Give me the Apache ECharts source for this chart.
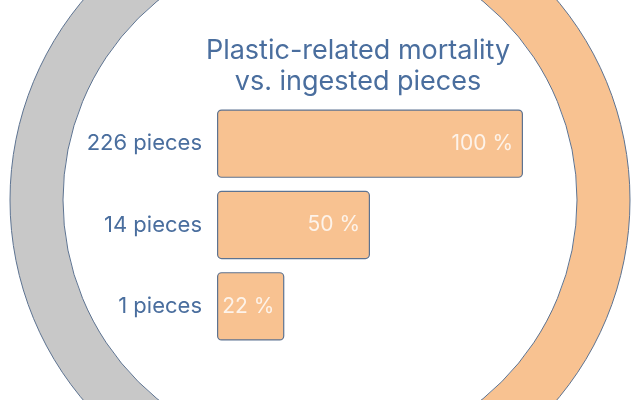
<!DOCTYPE html>
<html>
<head>
<meta charset="utf-8">
<script src="https://cdn.jsdelivr.net/npm/echarts@6/dist/echarts.min.js"></script>
<style>
  html, body { margin: 0; padding: 0; background: #fff; }
  #chart { width: 640px; height: 400px; }
</style>
</head>
<body>
<div id="chart"></div>
<script>
  // data
  const categories = ['226 pieces', '14 pieces', '1 pieces']
  const mortality = [100, 50, 22]
  const ringNames = ['orange', 'gray']
  const ringValues = [50, 50]

  const textColor = '#4a6e9e'
  const edgeColor = '#5d7391'

  let myChart = echarts.init(document.getElementById('chart'))

  let options = {
    animation: false,
    title: {
      text: 'Plastic-related mortality\nvs. ingested pieces',
      left: 353,
      top: 30,
      textAlign: 'center',
      textStyle: {
        color: textColor,
        fontFamily: 'Inter',
        fontWeight: 'normal',
        fontSize: 27,
        lineHeight: 31
      }
    },
    grid: {
      left: 217,
      right: 117,
      top: 103,
      bottom: 53
    },
    xAxis: {
      type: 'value',
      min: 0,
      max: 100,
      show: false
    },
    yAxis: {
      type: 'category',
      data: categories,
      inverse: true,
      axisLine: { show: false },
      axisTick: { show: false },
      axisLabel: {
        color: textColor,
        fontFamily: 'Inter',
        fontSize: 22,
        margin: 15
      }
    },
    series: [
      {
        type: 'pie',
        silent: true,
        center: ['50%', '50%'],
        radius: [257, 310],
        startAngle: 90,
        label: { show: false },
        labelLine: { show: false },
        itemStyle: {
          borderColor: edgeColor,
          borderWidth: 1
        },
        data: ringNames.map((name, i) => ({
          name: name,
          value: ringValues[i],
          itemStyle: { color: i === 0 ? '#f8c291' : '#c8c8c8' }
        }))
      },
      {
        type: 'bar',
        data: mortality,
        barWidth: '84%',
        itemStyle: {
          color: '#f8c291',
          borderColor: edgeColor,
          borderWidth: 1.2,
          borderRadius: 4
        },
        label: {
          show: true,
          position: 'insideRight',
          distance: 10,
          color: '#fdf3ea',
          fontFamily: 'Inter',
          fontSize: 21,
          formatter: p => p.value + ' %'
        }
      }
    ]
  }

  myChart.setOption(options)
</script>
</body>
</html>
